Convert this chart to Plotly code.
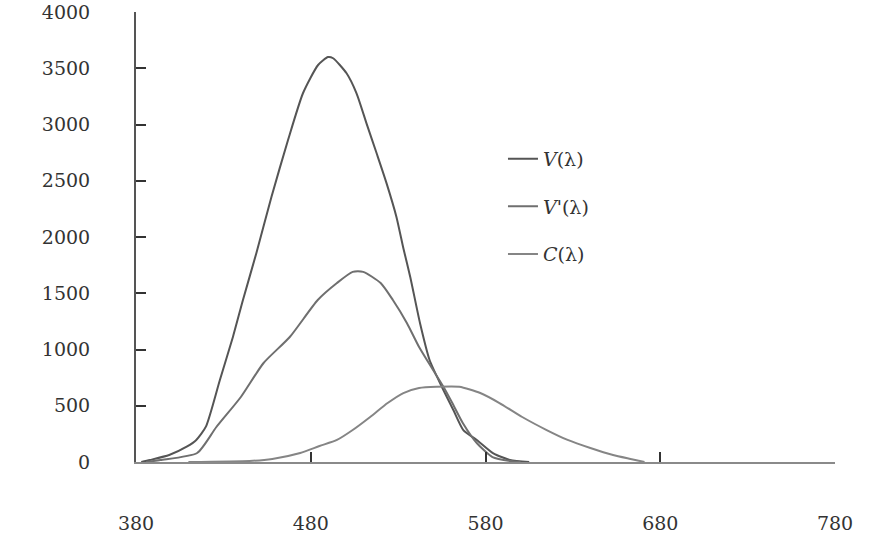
import plotly.graph_objects as go

# Series A (tall curve)
a_nm = [383, 388, 399, 409, 414.5, 420, 428, 435.5, 441.2, 448.9, 457.5, 467, 475.6,
        484.2, 489.9, 492.8, 500.5, 506.2, 511.9, 517.7, 523.4, 529, 533, 537, 542.5,
        548, 555, 561.6, 567.3, 575, 584.5, 594, 605]
a_val = [0, 18, 62, 136, 196, 314, 729, 1114, 1440, 1858, 2356, 2862, 3280,
         3529, 3600, 3589, 3455, 3277, 3010, 2744, 2477, 2181, 1900, 1640, 1236,
         907, 669, 462, 284, 196, 77, 18, 0]

# Series B (middle curve)
b_nm = [386, 394, 415, 426, 440, 453, 468, 484, 495, 504, 510, 520, 527, 535, 542,
        550, 556, 561, 567, 575, 584, 596, 600]
b_val = [0, 18, 80, 311, 578, 880, 1111, 1440, 1591, 1690, 1690, 1591, 1440, 1236, 1022,
         818, 667, 524, 347, 169, 44, 5, 0]

# Series C (broad curve)
c_nm = [410, 445, 458, 474, 485, 495, 504, 514, 524, 533, 542, 552, 565, 577, 588,
        601, 615, 627, 640, 653, 663, 671]
c_val = [0, 9, 27, 80, 142, 196, 284, 400, 524, 613, 658, 669, 669, 613, 524,
         400, 284, 196, 124, 62, 27, 0]

series_names = ["<i>V</i>(λ)", "<i>V'</i>(λ)", "<i>C</i>(λ)"]
series_colors = ["#555555", "#6f6f6f", "#858585"]

x_ticks = [380, 480, 580, 680, 780]
y_ticks = [0, 500, 1000, 1500, 2000, 2500, 3000, 3500, 4000]

FONT = "DejaVu Serif"

fig = go.Figure()
for i, (xs, ys) in enumerate([(a_nm, a_val), (b_nm, b_val), (c_nm, c_val)]):
    fig.add_trace(go.Scatter(
        x=xs, y=ys, mode="lines", name=series_names[i],
        line=dict(color=series_colors[i], width=2, shape="spline", smoothing=0.6),
        legendgroup=f"g{i}",
    ))

fig.update_layout(
    width=870, height=546,
    margin=dict(l=136, r=35, t=12, b=84, autoexpand=False),
    paper_bgcolor="white", plot_bgcolor="white",
    font=dict(family=FONT, size=19, color="#333333"),
    showlegend=True,
    legend=dict(
        x=0.525, y=0.716, xanchor="left", yanchor="top",
        bgcolor="rgba(0,0,0,0)", tracegroupgap=20,
        font=dict(family=FONT, size=19, color="#333333"),
    ),
    xaxis=dict(
        range=[380, 780], tickvals=x_ticks, ticktext=[str(v) for v in x_ticks],
        showgrid=False, zeroline=False, showline=True, linecolor="#8a8a8a", linewidth=2,
        ticks="inside", ticklen=10, tickwidth=2, tickcolor="#333333",
        ticklabelstandoff=43, automargin=False,
    ),
    yaxis=dict(
        range=[0, 4000], tickvals=y_ticks, ticktext=[str(v) for v in y_ticks],
        showgrid=False, zeroline=False, showline=True, linecolor="#555555", linewidth=2,
        ticks="inside", ticklen=10, tickwidth=2, tickcolor="#333333",
        ticklabelstandoff=40, automargin=False,
    ),
)

fig.write_html("out.html", config={"displayModeBar": False},
               post_script="document.body.style.margin='0';")
